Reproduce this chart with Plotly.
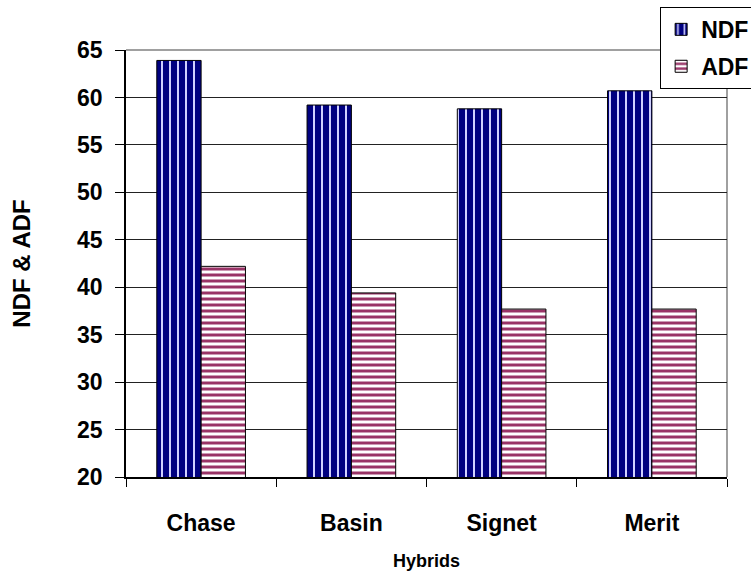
import plotly.graph_objects as go

# Fibre content of each hybrid
hybrids = ["Chase", "Basin", "Signet", "Merit"]
ndf = [63.9, 59.2, 58.8, 60.7]
adf = [42.2, 39.4, 37.7, 37.7]
y_ticks = [20, 25, 30, 35, 40, 45, 50, 55, 60, 65]

FONT = "Liberation Sans, Arial, sans-serif"

fig = go.Figure()
fig.add_trace(go.Bar(
    name="NDF", x=hybrids, y=ndf, legendgroup="ndf",
    marker=dict(
        color="#000080",
        line=dict(color="black", width=1),
        pattern=dict(shape="|", fgcolor="#d0d0ff", size=8, solidity=0.25, fgopacity=1),
    ),
))
fig.add_trace(go.Bar(
    name="ADF", x=hybrids, y=adf, legendgroup="adf",
    marker=dict(
        color="white",
        line=dict(color="black", width=1),
        pattern=dict(shape="-", fgcolor="#993366", size=6, solidity=0.5, fgopacity=1),
    ),
))

# gray frame on top and right of the plot area
fig.add_shape(type="line", xref="paper", yref="paper", x0=0, x1=1, y0=1, y1=1,
              line=dict(color="#a0a0a0", width=2), layer="below")
fig.add_shape(type="line", xref="paper", yref="paper", x0=1, x1=1, y0=0, y1=1,
              line=dict(color="#a0a0a0", width=2), layer="below")

fig.update_layout(
    width=751, height=575,
    margin=dict(l=126, r=24, t=50, b=98, autoexpand=False),
    paper_bgcolor="white", plot_bgcolor="white",
    barmode="group", bargap=0.41, bargroupgap=0,
    font=dict(family=FONT, color="black", weight="bold"),
    showlegend=True,
    legend=dict(
        xref="container", yref="container",
        x=0.879, y=0.988, xanchor="left", yanchor="top",
        bgcolor="white", bordercolor="black", borderwidth=1,
        font=dict(size=23, family=FONT, color="black", weight="bold"),
        itemwidth=30, tracegroupgap=4,
    ),
    xaxis=dict(
        title=dict(text="Hybrids", font=dict(size=18, weight="bold"), standoff=19),
        tickfont=dict(size=23, weight="bold"),
        showline=True, linecolor="black", linewidth=1.5,
        ticks="outside", tickson="boundaries", ticklen=8, tickcolor="black",
        ticklabelstandoff=25,
        showgrid=False,
    ),
    yaxis=dict(
        title=dict(text="NDF & ADF", font=dict(size=24, weight="bold"), standoff=40),
        range=[20, 65], tickvals=y_ticks,
        tickfont=dict(size=23, weight="bold"),
        showline=True, linecolor="black", linewidth=1.5,
        ticks="outside", ticklen=9, tickcolor="black",
        ticklabelstandoff=8,
        showgrid=True, gridcolor="#222222", gridwidth=1,
        zeroline=False,
    ),
)

fig.write_html("out.html")
